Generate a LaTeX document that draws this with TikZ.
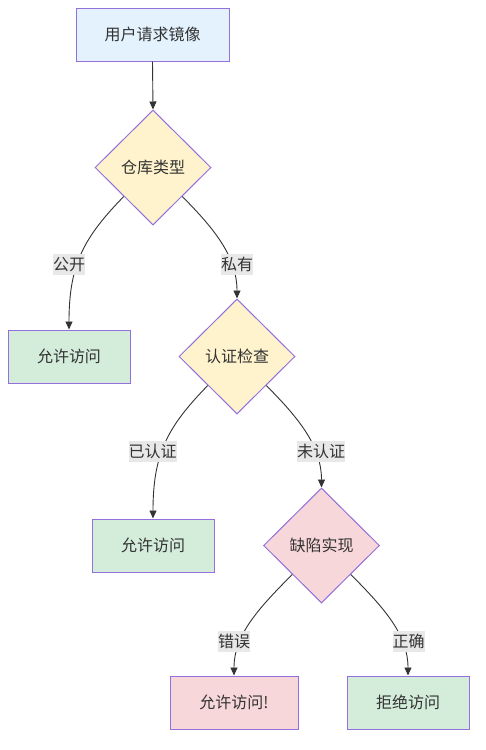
\documentclass[tikz,border=0pt]{standalone}
\usepackage{fontspec}
\setmainfont{Noto Sans CJK SC}
\usetikzlibrary{shapes.geometric,arrows.meta}
\definecolor{edgec}{HTML}{333333}
\definecolor{txt}{HTML}{333333}
\definecolor{bord}{HTML}{9370DB}
\definecolor{fblue}{HTML}{E3F2FD}
\definecolor{fyel}{HTML}{FFF3CD}
\definecolor{fgreen}{HTML}{D4EDDA}
\definecolor{fred}{HTML}{F8D7DA}
\definecolor{lblbg}{HTML}{E8E8E8}
\begin{document}
\begin{tikzpicture}[x=1pt,y=-1pt,
  font=\fontsize{16}{19}\selectfont, text=txt,
  box/.style={rectangle, draw=bord, line width=1pt, minimum height=53pt, inner sep=0pt},
  dec/.style={diamond, draw=bord, line width=1pt, minimum width=116pt, minimum height=115pt, inner sep=0pt},
  conn/.style={draw=edgec, line width=0.9pt, -{Triangle[length=8pt,width=7pt]}},
  lbl/.style={fill=lblbg, inner xsep=0pt, inner ysep=0pt, minimum height=21pt}]
\useasboundingbox[fill=white] (0,0) rectangle (485,750);

\node[box, fill=fblue, minimum width=153pt] (b0) at (152.5,34.5) {用户请求镜像};
\node[dec, fill=fyel] (d1) at (153,167.5) {仓库类型};
\node[box, fill=fgreen, minimum width=122pt] (a1) at (69,356.5) {允许访问};
\node[dec, fill=fyel] (d2) at (237,356.5) {认证检查};
\node[box, fill=fgreen, minimum width=122pt] (a2) at (153,545.5) {允许访问};
\node[dec, fill=fred] (d3) at (321.5,545.5) {缺陷实现};
\node[box, fill=fred, minimum width=128pt] (a3) at (234,702.5) {允许访问!};
\node[box, fill=fgreen, minimum width=122pt] (a4) at (408,702.5) {拒绝访问};

\draw[conn] (b0.south) -- (d1.north);
\draw[conn] (d1.south west) .. controls +(-40,41) and +(0,-65) .. (a1.north);
\draw[conn] (d1.south east) .. controls +(35,35) and +(0,-40) .. (d2.north);
\draw[conn] (d2.south west) .. controls +(-40,41) and +(0,-65) .. (a2.north);
\draw[conn] (d2.south east) .. controls +(35,35) and +(0,-40) .. (d3.north);
\draw[conn] (d3.south west) .. controls +(-35,35) and +(0,-40) .. (a3.north);
\draw[conn] (d3.south east) .. controls +(35,35) and +(0,-40) .. (a4.north);

\node[lbl] (l1) at (69,264.5) {公开};
\node[lbl] (l2) at (237,264.5) {私有};
\node[lbl] (l3) at (152.5,451.5) {已认证};
\node[lbl] (l4) at (321,451.5) {未认证};
\node[lbl] (l5) at (234,641) {错误};
\node[lbl] (l6) at (408.5,641) {正确};
\end{tikzpicture}
\end{document}
